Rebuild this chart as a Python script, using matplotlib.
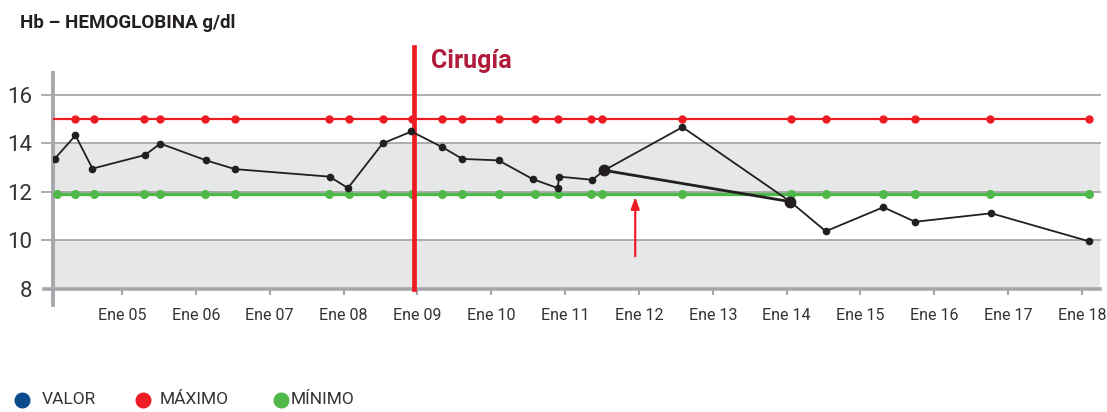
import matplotlib
matplotlib.use("Agg")
import matplotlib.pyplot as plt
from matplotlib.lines import Line2D

# fechas de control (año decimal) y hemoglobina g/dl
fechas = [2004.09, 2004.37, 2004.60, 2005.31, 2005.52, 2006.14, 2006.53, 2007.81,
          2008.06, 2008.53, 2008.92, 2009.34, 2009.61, 2010.10, 2010.56, 2010.90,
          2010.92, 2011.37, 2011.53, 2012.59, 2014.05, 2014.53, 2015.31, 2015.74,
          2016.77, 2018.09]
valor = [13.37, 14.33, 12.96, 13.52, 13.99, 13.30, 12.94, 12.63,
         12.16, 14.00, 14.49, 13.84, 13.36, 13.30, 12.53, 12.16,
         12.63, 12.50, 12.89, 14.67, 11.60, 10.38, 11.37, 10.77,
         11.12, 9.97]
destacados = [18, 20]

fechas_max = [2004.37, 2004.62, 2005.30, 2005.52, 2006.13, 2006.53, 2007.80, 2008.07,
              2008.53, 2008.93, 2009.34, 2009.60, 2010.10, 2010.59, 2010.90, 2011.35,
              2011.50, 2012.59, 2014.06, 2014.53, 2015.31, 2015.74, 2016.76, 2018.09]
maximo = [15.0, 15.0, 15.0, 15.0, 15.0, 15.0, 15.0, 15.0,
          15.0, 15.0, 15.0, 15.0, 15.0, 15.0, 15.0, 15.0,
          15.0, 15.0, 15.0, 15.0, 15.0, 15.0, 15.0, 15.0]
fechas_min = [2004.12] + fechas_max
minimo = [11.9, 11.9, 11.9, 11.9, 11.9, 11.9, 11.9, 11.9, 11.9,
          11.9, 11.9, 11.9, 11.9, 11.9, 11.9, 11.9, 11.9,
          11.9, 11.9, 11.9, 11.9, 11.9, 11.9, 11.9, 11.9]

cirugia = 2008.96
flecha_x = 2011.95
anios = list(range(2005, 2019))
etiquetas = ["Ene %02d" % (a % 100) for a in anios]
yticks = [8, 10, 12, 14, 16]
bandas = [(8, 10), (12, 14)]

FUENTE = ["Roboto", "DejaVu Sans"]
ROJO = "#ed1c24"
VERDE = "#50b848"
AZUL = "#0b4a8b"
NEGRO = "#231f20"
GRIS = "#a5a7aa"
BANDA = "#e6e7e8"
TEXTO = "#333333"

fig = plt.figure(figsize=(11.07, 4.12), dpi=100)
ax = fig.add_axes([0.0479, 0.2985, 0.9458, 0.5243])
x0, x1 = 2004.066, 2018.244
ax.set_xlim(x0, x1)
ax.set_ylim(8, 16.9)

# bandas grises y rejilla
for lo, hi in bandas:
    ax.fill_between([x0, x1], lo, hi, color=BANDA, lw=0, zorder=0)
for y in [10, 12, 14, 16]:
    ax.axhline(y, xmin=-0.011, color=GRIS, lw=1.3, zorder=1, clip_on=False)

# ejes cruzados
ax.axhline(8, xmin=-0.009, xmax=1, color=GRIS, lw=2.6, zorder=2, clip_on=False)
ax.axvline(x0, ymin=-0.075, ymax=1, color=GRIS, lw=2.8, zorder=2, clip_on=False)
for s in ax.spines.values():
    s.set_visible(False)

# máximo y mínimo
ax.hlines(maximo[0], x0, fechas_max[-1], color=ROJO, lw=1.6, zorder=3)
ax.plot(fechas_max, maximo, "o", color=ROJO, ms=5, zorder=3)
ax.hlines(minimo[0], x0, fechas_min[-1], color=VERDE, lw=2.4, zorder=3)
ax.plot(fechas_min, minimo, "o", color=VERDE, ms=5.5, zorder=3)

# cirugía
ax.plot([cirugia, cirugia], [8, 17.97], color=ROJO, lw=3.4, zorder=4, clip_on=False)
ax.text(cirugia + 0.23, 17.09, "Cirugía", color="#b01c3c", fontsize=18,
        fontweight="bold", family=FUENTE, va="baseline", ha="left")

# valores
ax.plot(fechas, valor, "-o", color=NEGRO, lw=1.3, ms=4.5, zorder=5)
fx = [fechas[i] for i in destacados]
fy = [valor[i] for i in destacados]
ax.plot(fx, fy, "-o", color=NEGRO, lw=2.0, ms=7.5, zorder=6)

ax.annotate("", xy=(flecha_x, 11.8), xytext=(flecha_x, 9.35),
            arrowprops=dict(arrowstyle="-|>,head_length=0.7,head_width=0.25",
                            color=ROJO, lw=1.6, shrinkA=0, shrinkB=0))

ax.set_xticks(anios)
ax.set_xticklabels(etiquetas, family=FUENTE, fontsize=11.5, color=TEXTO)
ax.set_yticks(yticks)
ax.set_yticklabels([str(v) for v in yticks], family=FUENTE, fontsize=16, color=TEXTO)
for lab in ax.get_xticklabels():
    lab.set_x(lab.get_position()[0])
ax.tick_params(axis="x", length=4.5, width=1.5, color=GRIS, pad=9)
ax.tick_params(axis="y", length=0, pad=15)

fig.text(0.018, 0.945, "Hb – HEMOGLOBINA g/dl", fontsize=13.5, fontweight="bold",
         family=FUENTE, color=NEGRO, va="center")

# leyenda
ley_y = 1 - 400 / 412
for cx, tx, c, nombre in [(22, 42, AZUL, "VALOR"), (143, 160, ROJO, "MÁXIMO"),
                          (281, 291, VERDE, "MÍNIMO")]:
    fig.add_artist(Line2D([cx / 1107], [ley_y], ls="", marker="o", ms=10.5,
                          color=c, transform=fig.transFigure))
    fig.text(tx / 1107, ley_y, nombre, family=FUENTE, fontsize=12.5, color=TEXTO,
             va="center", ha="left")

fig.savefig("out.png", dpi=100)
